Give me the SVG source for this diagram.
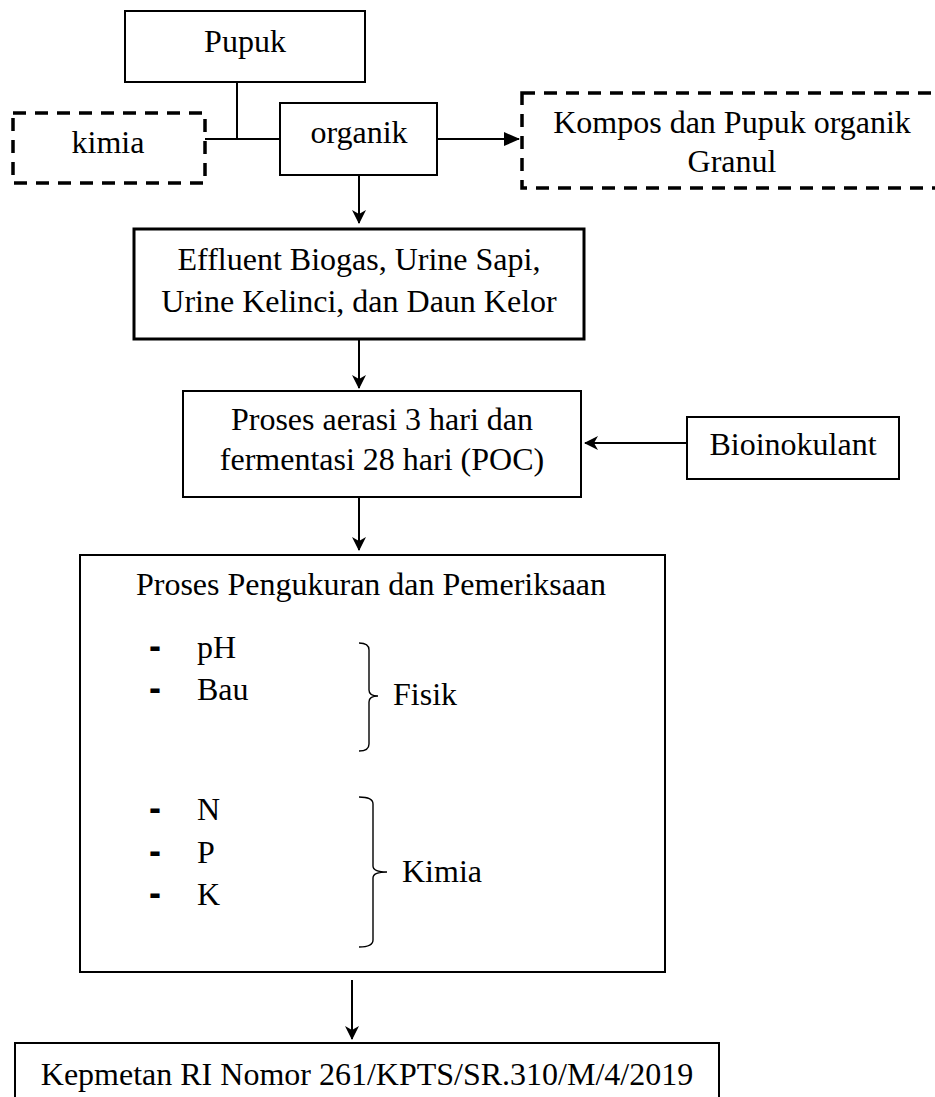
<svg xmlns="http://www.w3.org/2000/svg" width="935" height="1097" viewBox="0 0 935 1097">
<style>
text{font-family:"Liberation Serif","Times New Roman",serif;font-size:32px;fill:#000}
.c{text-anchor:middle}
.box{fill:#fff;stroke:#000;stroke-width:2}
.thick{fill:#fff;stroke:#000;stroke-width:3}
.dash{fill:#fff;stroke:#000;stroke-width:3.5;stroke-dasharray:13 9}
.ln{fill:none;stroke:#000;stroke-width:2}
.br{fill:none;stroke:#000;stroke-width:1.4}
.hy{font-family:"Liberation Sans",Arial,sans-serif;font-weight:bold;font-size:36px}
</style>
<defs>
<marker id="ah" markerWidth="14" markerHeight="14" refX="13" refY="7" orient="auto" markerUnits="userSpaceOnUse">
<path d="M0,0 L14,7 L0,14 L4,7 z" fill="#000"/>
</marker>
<marker id="tri" markerWidth="16" markerHeight="16" refX="15" refY="8" orient="auto" markerUnits="userSpaceOnUse">
<path d="M0,1 L16,8 L0,15 z" fill="#000"/>
</marker>
</defs>
<g id="connectors">
<path class="ln" d="M237,82 V139"/>
<path class="ln" d="M205,139 H280"/>
<path class="ln" d="M437,139 H519" marker-end="url(#tri)"/>
<path class="ln" d="M359,175 V223" marker-end="url(#ah)"/>
<path class="ln" d="M359,339 V388" marker-end="url(#ah)"/>
<path class="ln" d="M687,443 H585" marker-end="url(#ah)"/>
<path class="ln" d="M359,497 V550" marker-end="url(#ah)"/>
<path class="ln" d="M352,980 V1039" marker-end="url(#ah)"/>
</g>
<g id="pupuk">
<rect class="box" x="125" y="11" width="240" height="71"/>
<text class="c" x="245" y="52">Pupuk</text>
</g>
<g id="kimia">
<rect class="dash" x="13" y="113" width="192" height="70"/>
<text class="c" x="108" y="153">kimia</text>
</g>
<g id="organik">
<rect class="box" x="280" y="103" width="157" height="72"/>
<text class="c" x="359" y="143">organik</text>
</g>
<g id="kompos">
<rect class="dash" x="522" y="93" width="450" height="95"/>
<text class="c" x="732" y="133">Kompos dan Pupuk organik</text>
<text class="c" x="732" y="172">Granul</text>
</g>
<g id="effluent">
<rect class="thick" x="134" y="229" width="450" height="110"/>
<text class="c" x="359" y="270">Effluent Biogas, Urine Sapi,</text>
<text class="c" x="359" y="312">Urine Kelinci, dan Daun Kelor</text>
</g>
<g id="proses">
<rect class="box" x="183" y="391" width="398" height="106"/>
<text class="c" x="382" y="430">Proses aerasi 3 hari dan</text>
<text class="c" x="382" y="470">fermentasi 28 hari (POC)</text>
</g>
<g id="bioinokulant">
<rect class="box" x="687" y="417" width="212" height="62"/>
<text class="c" x="793" y="455">Bioinokulant</text>
</g>
<g id="pemeriksaan">
<rect class="box" x="80" y="555" width="585" height="417"/>
<text class="c" x="371" y="595">Proses Pengukuran dan Pemeriksaan</text>
<text class="hy" x="149" y="658">-</text>
<text x="197" y="658">pH</text>
<text class="hy" x="149" y="700">-</text>
<text x="197" y="700">Bau</text>
<path class="br" d="M359,643 Q369,643 369,650 V690 Q369,696 378,696 Q369,696 369,702 V744 Q369,751 359,751"/>
<text x="393" y="705">Fisik</text>
<text class="hy" x="149" y="820">-</text>
<text x="197" y="820">N</text>
<text class="hy" x="149" y="863">-</text>
<text x="197" y="863">P</text>
<text class="hy" x="149" y="905">-</text>
<text x="197" y="905">K</text>
<path class="br" d="M359,797 Q373,797 373,804 V866 Q373,872 387,872 Q373,872 373,878 V940 Q373,947 359,947"/>
<text x="402" y="882">Kimia</text>
</g>
<g id="kepmetan">
<rect class="box" x="15" y="1043" width="704" height="70"/>
<text class="c" x="367" y="1085">Kepmetan RI Nomor 261/KPTS/SR.310/M/4/2019</text>
</g>
</svg>
